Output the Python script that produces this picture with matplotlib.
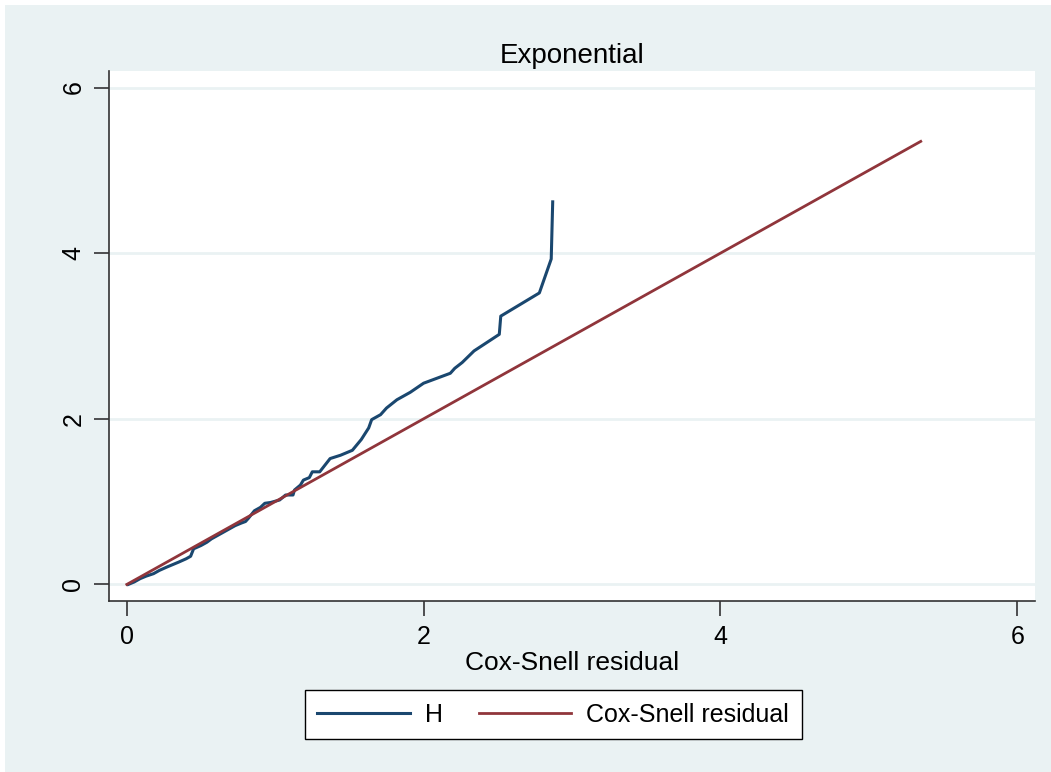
import numpy as np
import matplotlib.pyplot as plt
from matplotlib.patches import Rectangle

plt.rcParams['font.family'] = ['Liberation Sans', 'DejaVu Sans']

# Cox-Snell residuals (sorted) and Nelson-Aalen cumulative hazard H
cs = [0.01, 0.05, 0.09, 0.13, 0.18, 0.22, 0.27, 0.31, 0.35, 0.40, 0.43, 0.45,
      0.50, 0.54, 0.57, 0.61, 0.65, 0.69, 0.73, 0.77, 0.80, 0.82, 0.86, 0.90,
      0.93, 0.97, 1.03, 1.07, 1.12, 1.13, 1.17, 1.19, 1.23, 1.25, 1.30, 1.37,
      1.44, 1.52, 1.58, 1.63, 1.65, 1.71, 1.75, 1.82, 1.91, 2.00, 2.18, 2.21,
      2.26, 2.34, 2.51, 2.52, 2.78, 2.86, 2.87]
H = [0.00, 0.03, 0.07, 0.10, 0.13, 0.17, 0.21, 0.24, 0.27, 0.31, 0.34, 0.43,
     0.47, 0.51, 0.55, 0.59, 0.63, 0.67, 0.71, 0.74, 0.76, 0.80, 0.89, 0.93,
     0.98, 0.99, 1.02, 1.08, 1.08, 1.14, 1.20, 1.26, 1.29, 1.36, 1.36, 1.52,
     1.56, 1.62, 1.75, 1.89, 1.99, 2.05, 2.13, 2.23, 2.32, 2.43, 2.55, 2.61,
     2.68, 2.82, 3.02, 3.24, 3.52, 3.93, 4.62]
# reference line: residual against itself
ref = [0.0, 0.5, 1.0, 1.6, 2.0, 2.87, 4.0, 5.35]

ticks = [0, 2, 4, 6]
navy = '#1a476f'
maroon = '#90353b'
bg = '#eaf2f3'

fig = plt.figure(figsize=(10.51, 7.72), dpi=100, facecolor='white')
fig.patches.append(Rectangle((5 / 1051, 0), 1, 1 - 5 / 772, transform=fig.transFigure,
                             facecolor=bg, edgecolor='none', zorder=-1))

ax = fig.add_axes([109 / 1051, 1 - 601 / 772, (1035 - 109) / 1051, (601 - 71) / 772])
ax.set_facecolor('white')

ax.plot(cs, H, color=navy, lw=2.2, label='H', solid_joinstyle='round')
ax.plot(ref, ref, color=maroon, lw=2.0, label='Cox-Snell residual')

ax.set_xlim(-0.12, 6.12)
ax.set_ylim(-0.2, 6.2)
ax.set_xticks(ticks)
ax.set_yticks(ticks)
ax.yaxis.grid(True, color=bg, lw=2)
ax.set_axisbelow(True)

for s in ['top', 'right']:
    ax.spines[s].set_visible(False)
for s in ['left', 'bottom']:
    ax.spines[s].set_color('#333333')
    ax.spines[s].set_linewidth(1.2)

ax.tick_params(axis='both', length=11, width=1.2, color='#333333', labelsize=18, pad=6)
plt.setp(ax.get_yticklabels(), rotation=90, va='center')

ax.set_title('Exponential', fontsize=20, pad=6)
ax.set_xlabel('Cox-Snell residual', fontsize=19, labelpad=2)

leg = ax.legend(loc='upper center', bbox_to_anchor=(0.4795, -0.145), ncol=2, fontsize=18,
                frameon=True, fancybox=False, framealpha=1, handlelength=3.7,
                columnspacing=1.45, borderpad=0.5, handletextpad=0.6)
leg.get_frame().set_facecolor('white')
leg.get_frame().set_edgecolor('black')
leg.get_frame().set_linewidth(1.0)

fig.savefig('out.png', dpi=100, facecolor=fig.get_facecolor())
